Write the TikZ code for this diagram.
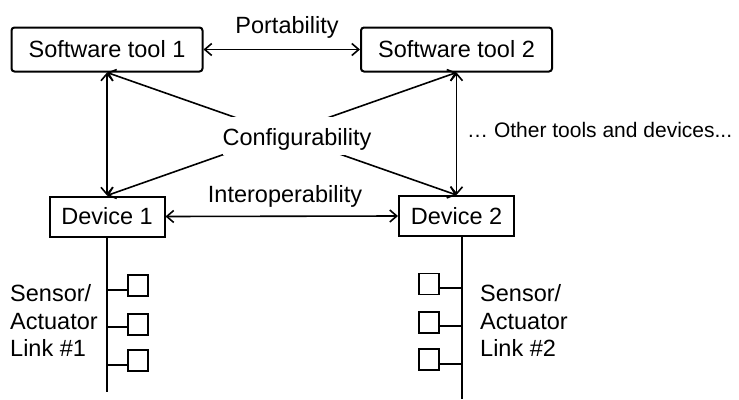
\documentclass[tikz,border=0pt]{standalone}
\usepackage{fontspec}
\setmainfont{Liberation Sans}
\usetikzlibrary{arrows.meta}
\begin{document}
\begin{tikzpicture}[x=1pt,y=-1pt,
  every node/.style={font=\fontsize{23.5}{27.5}\selectfont},
  toolbox/.style={draw, rounded corners=3pt, line width=2pt, minimum width=191pt, minimum height=44pt, inner sep=0pt},
  devbox/.style={draw, line width=2pt, minimum width=115pt, minimum height=40pt, inner sep=0pt},
  link/.style={line width=1.6pt, {Straight Barb[length=7pt,width=12pt]}-{Straight Barb[length=7pt,width=12pt]}},
  bus/.style={line width=1.5pt},
  sbox/.style={draw, line width=1.3pt, minimum width=20pt, minimum height=21pt, inner sep=0pt},
  lbl/.style={anchor=base, inner sep=0pt}
]
\useasboundingbox (0,0) rectangle (739,399);

% main boxes
\node[toolbox] (t1) at (107,49.5) {Software tool 1};
\node[toolbox] (t2) at (456.5,49.5) {Software tool 2};
\node[devbox] (d1) at (107,216.5) {Device 1};
\node[devbox] (d2) at (456.5,216) {Device 2};

% connectors
\draw[link] (t1.east) -- (t2.west);
\draw[link] (d1.east) -- (d2.west);
\draw[link] (t1.south) -- (d1.north);
\draw[link] (t2.south) -- (d2.north);
\draw[link] (t1.south) -- (d2.north);
\draw[link] (t2.south) -- (d1.north);

% labels
\node[lbl] (port) at (287,33) {Portability};
\node[lbl] (inter) at (285,202) {Interoperability};
\node[lbl, fill=white, text height=23pt, text depth=5pt, inner ysep=5pt] (conf) at (297,145) {Configurability};
\node[anchor=base west, inner sep=0pt, font=\fontsize{21}{25}\selectfont] (other) at (467,137) {… Other tools and devices...};

% bus 1
\coordinate (b1end) at (107,392);
\draw[bus] (d1.south) -- (b1end);
\coordinate (j11) at (107,290);
\coordinate (j12) at (107,327);
\coordinate (j13) at (107,365);
\node[sbox] (s11) at (138,285.5) {};
\node[sbox] (s12) at (138,324.5) {};
\node[sbox] (s13) at (138,360.5) {};
\draw[bus] (j11) -- (j11 -| s11.west);
\draw[bus] (j12) -- (j12 -| s12.west);
\draw[bus] (j13) -- (j13 -| s13.west);
\node[anchor=base west, inner sep=0pt] (l1a) at (10,301) {Sensor/};
\node[anchor=base west, inner sep=0pt] (l1b) at (10,329) {Actuator};
\node[anchor=base west, inner sep=0pt] (l1c) at (10,356) {Link \#1};

% bus 2
\coordinate (b2end) at (462,399);
\draw[bus] (d2.south -| b2end) -- (b2end);
\coordinate (j21) at (462,288);
\coordinate (j22) at (462,326);
\coordinate (j23) at (462,364);
\node[sbox] (s21) at (429,284) {};
\node[sbox] (s22) at (429,322.5) {};
\node[sbox] (s23) at (429,359.5) {};
\draw[bus] (j21) -- (j21 -| s21.east);
\draw[bus] (j22) -- (j22 -| s22.east);
\draw[bus] (j23) -- (j23 -| s23.east);
\node[anchor=base west, inner sep=0pt] (l2a) at (480,301) {Sensor/};
\node[anchor=base west, inner sep=0pt] (l2b) at (480,329) {Actuator};
\node[anchor=base west, inner sep=0pt] (l2c) at (480,356) {Link \#2};
\end{tikzpicture}
\end{document}
